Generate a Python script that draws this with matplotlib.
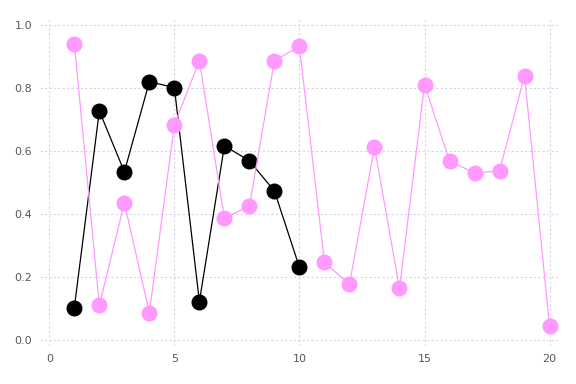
import matplotlib.pyplot as plt

x_pink = list(range(1, 21))
y_pink = [0.942, 0.109, 0.435, 0.086, 0.684, 0.888, 0.387, 0.425, 0.888, 0.933,
          0.246, 0.176, 0.613, 0.163, 0.811, 0.569, 0.530, 0.537, 0.840, 0.042]

x_black = list(range(1, 11))
y_black = [0.102, 0.728, 0.534, 0.821, 0.802, 0.121, 0.617, 0.569, 0.473, 0.230]

fig, ax = plt.subplots(figsize=(5.76, 3.84), dpi=100)
fig.subplots_adjust(left=0.07, right=0.968, top=0.955, bottom=0.1)

ax.plot(x_black, y_black, color='black', lw=0.9, marker='o', markersize=10.5, zorder=3)
ax.plot(x_pink, y_pink, color='#ff99ff', lw=0.9, marker='o', markersize=10.5, zorder=4)

ax.set_xlim(-0.36, 20.32)
ax.set_ylim(-0.019, 1.026)
ax.set_xticks([0, 5, 10, 15, 20])
ax.set_yticks([0.0, 0.2, 0.4, 0.6, 0.8, 1.0])
ax.set_yticklabels(['0.0', '0.2', '0.4', '0.6', '0.8', '1.0'])

for s in ax.spines.values():
    s.set_visible(False)
ax.tick_params(length=0, labelsize=8, labelcolor='#5a5560', pad=6)
ax.grid(True, color='#d8d4e8', linestyle=(0, (2, 2)), lw=0.8)
ax.set_axisbelow(True)

plt.savefig('out.png')
